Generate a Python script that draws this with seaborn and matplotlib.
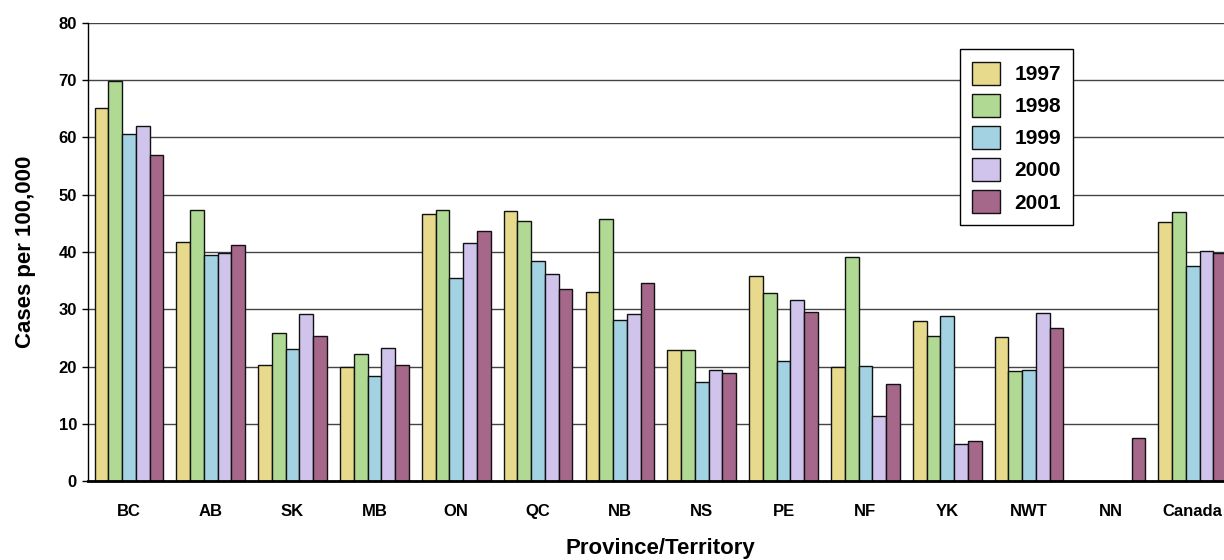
import numpy as np
import pandas as pd
import matplotlib
matplotlib.use("Agg")
import matplotlib.pyplot as plt
import seaborn as sns

# data
provinces = ["BC", "AB", "SK", "MB", "ON", "QC", "NB", "NS", "PE", "NF", "YK", "NWT", "NN", "Canada"]
years = ["1997", "1998", "1999", "2000", "2001"]
rate_1997 = [65.2, 41.7, 20.2, 20.0, 46.7, 47.2, 33.1, 22.8, 35.8, 19.9, 27.9, 25.1, np.nan, 45.2]
rate_1998 = [69.8, 47.3, 25.9, 22.2, 47.3, 45.5, 45.8, 22.8, 32.8, 39.2, 25.4, 19.2, np.nan, 47.0]
rate_1999 = [60.6, 39.4, 23.1, 18.4, 35.4, 38.5, 28.2, 17.3, 21.0, 20.1, 28.9, 19.4, np.nan, 37.6]
rate_2000 = [62.0, 39.8, 29.1, 23.2, 41.6, 36.1, 29.1, 19.4, 31.7, 11.3, 6.5, 29.3, np.nan, 40.1]
rate_2001 = [57.0, 41.3, 25.3, 20.2, 43.7, 33.5, 34.5, 18.8, 29.5, 16.9, 7.0, 26.7, 7.5, 39.8]
colors = ["#E8DA8C", "#B0DA94", "#A3D3E3", "#D0C4EC", "#A5688B"]

series = [rate_1997, rate_1998, rate_1999, rate_2000, rate_2001]
df = pd.DataFrame(
    [(p, y, v) for y, vals in zip(years, series) for p, v in zip(provinces, vals)],
    columns=["province", "year", "rate"],
)

sns.set_style("white")
plt.rcParams["font.family"] = ["Liberation Sans", "DejaVu Sans"]
plt.rcParams["font.weight"] = "bold"
plt.rcParams["text.color"] = "black"
plt.rcParams["axes.labelcolor"] = "black"
plt.rcParams["xtick.color"] = "black"
plt.rcParams["ytick.color"] = "black"

fig = plt.figure(figsize=(12.24, 5.6), dpi=100)
ax = fig.add_axes([0.0719, 0.141, 0.936, 0.818])

sns.barplot(
    data=df, x="province", y="rate", hue="year", order=provinces, hue_order=years,
    palette=colors, width=0.84, edgecolor="#111111", linewidth=1.0, ax=ax,
    errorbar=None, saturation=1,
)

ax.set_ylim(0, 80)
ax.set_yticks(range(0, 81, 10))
ax.set_xlim(-0.5, len(provinces) - 0.5)
ax.grid(axis="y", color="#444444", linewidth=1.0)
ax.set_axisbelow(True)
for s in ["top", "right"]:
    ax.spines[s].set_visible(False)
ax.spines["left"].set_color("black")
ax.spines["left"].set_linewidth(1.0)
ax.spines["bottom"].set_color("black")
ax.spines["bottom"].set_linewidth(2.0)
ax.tick_params(axis="y", length=4, width=1, direction="out", left=True, labelsize=12, pad=4)
ax.tick_params(axis="x", length=0, labelsize=12, pad=16.5)
for lbl in ax.get_xticklabels() + ax.get_yticklabels():
    lbl.set_fontweight("bold")

ax.set_xlabel("Province/Territory", fontsize=16, fontweight="bold", labelpad=14)
ax.set_ylabel("Cases per 100,000", fontsize=16, fontweight="bold", labelpad=16)

leg = ax.legend(
    loc="upper left", bbox_to_anchor=(0.752, 0.965), frameon=True, fancybox=False,
    prop={"size": 15, "weight": "bold"}, handlelength=1.3, handleheight=1.3,
    labelspacing=0.45, borderpad=0.6, handletextpad=0.7, title=None,
)
leg.get_frame().set_edgecolor("black")
leg.get_frame().set_linewidth(1.0)
leg.get_frame().set_alpha(1)

fig.savefig("out.png", dpi=100)
